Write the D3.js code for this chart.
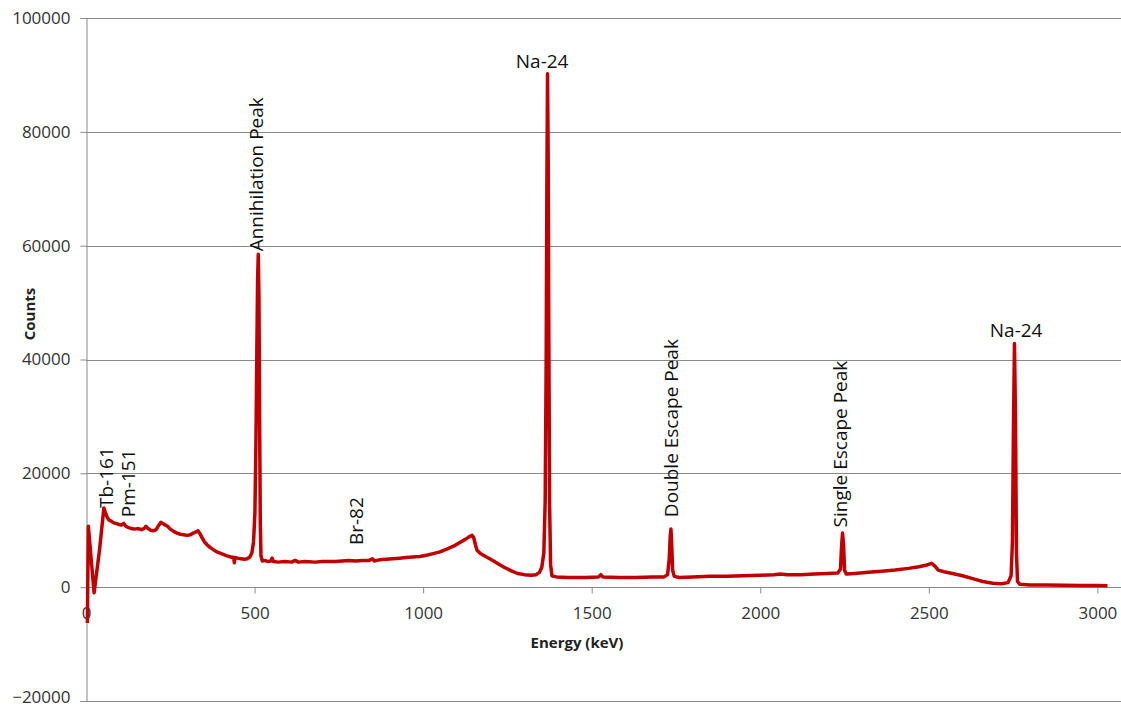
<!DOCTYPE html>
<html>
<head>
<meta charset="utf-8">
<script src="https://cdn.jsdelivr.net/npm/d3@7"></script>
<style>
  body { margin: 0; background: #fff; }
  svg { display: block; font-family: "Open Sans", sans-serif; }
</style>
</head>
<body>
<svg id="chart"></svg>
<script>
// spectrum: energy (keV) and counts
var energy = [4, 7, 24, 40, 53, 57, 62, 68, 75, 82, 90, 98, 105, 112, 118, 125, 135, 145, 155, 165, 172, 178, 184, 192, 200,
  208, 215, 222, 228, 235, 242, 250, 260, 270, 280, 290, 300, 310, 318, 326, 332, 338, 345, 352, 360, 370, 380, 392, 405,
  418, 430, 438, 440, 442, 450, 460, 470, 478, 486, 492, 497, 501, 504, 507, 509, 511, 513, 515, 517, 519, 523, 530, 540,
  548, 552, 556, 570, 590, 610, 620, 630, 650, 680, 700, 720, 740, 760, 780, 800, 820, 840, 850, 855, 870, 890, 910, 930,
  950, 970, 990, 1010, 1030, 1050, 1070, 1090, 1110, 1125, 1135, 1145, 1150, 1155, 1160, 1170, 1185, 1200, 1220, 1240,
  1260, 1280, 1300, 1320, 1335, 1345, 1352, 1358, 1362, 1365, 1367, 1369, 1371, 1373, 1375, 1378, 1382, 1395, 1430, 1480,
  1520, 1527, 1533, 1580, 1630, 1680, 1715, 1725, 1730, 1733, 1735, 1737, 1740, 1745, 1760, 1800, 1850, 1900, 1950, 2000,
  2040, 2060, 2080, 2120, 2160, 2200, 2230, 2238, 2241, 2244, 2247, 2250, 2255, 2280, 2320, 2360, 2400, 2440, 2470, 2495,
  2508, 2518, 2528, 2545, 2570, 2600, 2630, 2660, 2690, 2715, 2735, 2744, 2748, 2751, 2754, 2757, 2760, 2763, 2770, 2800,
  2850, 2900, 2950, 3000, 3030];
var counts = [-6300, 10700, -1000, 6500, 13900, 13200, 12400, 11800, 11600, 11300, 11200, 11000, 10900, 11200, 10700, 10500,
  10300, 10200, 10300, 10100, 10300, 10700, 10300, 10000, 9900, 10100, 10800, 11400, 11200, 10900, 10700, 10200, 9800,
  9500, 9300, 9200, 9100, 9200, 9500, 9700, 9900, 9400, 8600, 7900, 7400, 6900, 6500, 6100, 5800, 5500, 5300, 5200, 4300,
  5200, 5100, 5000, 4900, 5000, 5300, 6000, 8000, 13000, 25000, 43000, 54000, 58500, 51000, 30000, 11000, 5500, 4600, 4700,
  4500, 4600, 5100, 4500, 4400, 4500, 4400, 4700, 4400, 4500, 4400, 4500, 4500, 4500, 4600, 4700, 4600, 4700, 4700, 5000,
  4600, 4800, 4900, 5000, 5100, 5200, 5300, 5400, 5600, 5900, 6200, 6700, 7200, 7900, 8400, 8800, 9100, 8700, 7500, 6500,
  5900, 5400, 4900, 4200, 3500, 2900, 2400, 2200, 2100, 2200, 2600, 3500, 6000, 15000, 40000, 70000, 90200, 75000, 42000,
  15000, 4000, 2000, 1800, 1700, 1700, 1800, 2200, 1800, 1700, 1700, 1800, 1800, 2200, 5000, 9000, 10200, 8000, 3000, 1900,
  1700, 1800, 1900, 1900, 2000, 2100, 2200, 2300, 2200, 2200, 2300, 2400, 2500, 3200, 7000, 9500, 7500, 3000, 2300, 2400,
  2600, 2800, 3000, 3300, 3600, 3900, 4200, 3700, 3000, 2700, 2400, 2000, 1500, 1000, 700, 600, 800, 2000, 8000, 28000,
  42800, 30000, 6000, 1000, 500, 400, 400, 350, 300, 300, 250];

var yTicks = [-20000, 0, 20000, 40000, 60000, 80000, 100000];
var xTicks = [0, 500, 1000, 1500, 2000, 2500, 3000];

// peak annotations: text, energy and counts where the label starts
var peakNames = ["Tb-161", "Pm-151", "Annihilation Peak", "Br-82", "Na-24", "Double Escape Peak", "Single Escape Peak", "Na-24"];
var peakEnergy = [80, 145, 525, 822, 1353, 1756, 2257, 2759];
var peakCounts = [13900, 12300, 59000, 7400, 91200, 12300, 10500, 43900];
var peakVertical = [true, true, true, true, false, true, true, false];

var width = 1121, height = 709;
var svg = d3.select("#chart").attr("width", width).attr("height", height);

var x = d3.scaleLinear().domain([0, 3070]).range([86, 1121]);
var y = d3.scaleLinear().domain([-20000, 100000]).range([701, 18]);

// horizontal gridlines
svg.append("g")
  .selectAll("line")
  .data(yTicks)
  .enter().append("line")
  .attr("x1", x(0)).attr("x2", width)
  .attr("y1", function(d) { return Math.round(y(d)) + 0.5; })
  .attr("y2", function(d) { return Math.round(y(d)) + 0.5; })
  .attr("stroke", "#8a8a8a")
  .attr("stroke-width", 1);

// y axis
var yAxis = svg.append("g")
  .attr("transform", "translate(" + (Math.round(x(0)) + 0.5) + ",0)")
  .call(d3.axisLeft(y).tickValues(yTicks).tickSize(6).tickPadding(10).tickFormat(d3.format("d")));
yAxis.select(".domain").attr("stroke", "#8a8a8a");
yAxis.selectAll(".tick line").attr("stroke", "#8a8a8a");
yAxis.selectAll(".tick text").attr("font-size", "17px").attr("fill", "#333").attr("font-family", "Open Sans");
// keep the lowest label inside the picture
yAxis.selectAll(".tick text").filter(function(d) { return d === yTicks[0]; }).attr("dy", "0.1em");

// x axis sits on the zero line
var xAxis = svg.append("g")
  .attr("transform", "translate(0," + (Math.round(y(0)) + 0.5) + ")")
  .call(d3.axisBottom(x).tickValues(xTicks).tickSize(6).tickPadding(13).tickFormat(d3.format("d")));
xAxis.select(".domain").remove();
xAxis.selectAll(".tick line").attr("stroke", "#8a8a8a");
xAxis.selectAll(".tick text").attr("font-size", "17px").attr("fill", "#333").attr("font-family", "Open Sans");

// axis titles
svg.append("text")
  .attr("x", 577).attr("y", 648)
  .attr("text-anchor", "middle")
  .attr("font-size", "15px").attr("font-weight", "bold").attr("fill", "#222")
  .text("Energy (keV)");
svg.append("text")
  .attr("transform", "translate(35,314) rotate(-90)")
  .attr("text-anchor", "middle")
  .attr("font-size", "15px").attr("font-weight", "bold").attr("fill", "#222")
  .text("Counts");

// spectrum
var pts = energy.map(function(e, i) { return [e, counts[i]]; });
var line = d3.line()
  .x(function(d) { return x(d[0]); })
  .y(function(d) { return y(d[1]); });
svg.append("path")
  .datum(pts)
  .attr("d", line)
  .attr("fill", "none")
  .attr("stroke", "#c00000")
  .attr("stroke-width", 3.5)
  .attr("stroke-linejoin", "round");

// peak labels
var i;
for (i = 0; i < peakNames.length; i++) {
  var px = x(peakEnergy[i]), py = y(peakCounts[i]);
  if (peakVertical[i]) {
    svg.append("text")
      .attr("transform", "translate(" + px + "," + py + ") rotate(-90)")
      .attr("font-size", "19px").attr("fill", "#111")
      .text(peakNames[i]);
  } else {
    svg.append("text")
      .attr("x", px).attr("y", py)
      .attr("text-anchor", "middle")
      .attr("font-size", "19px").attr("fill", "#111")
      .text(peakNames[i]);
  }
}
</script>
</body>
</html>
